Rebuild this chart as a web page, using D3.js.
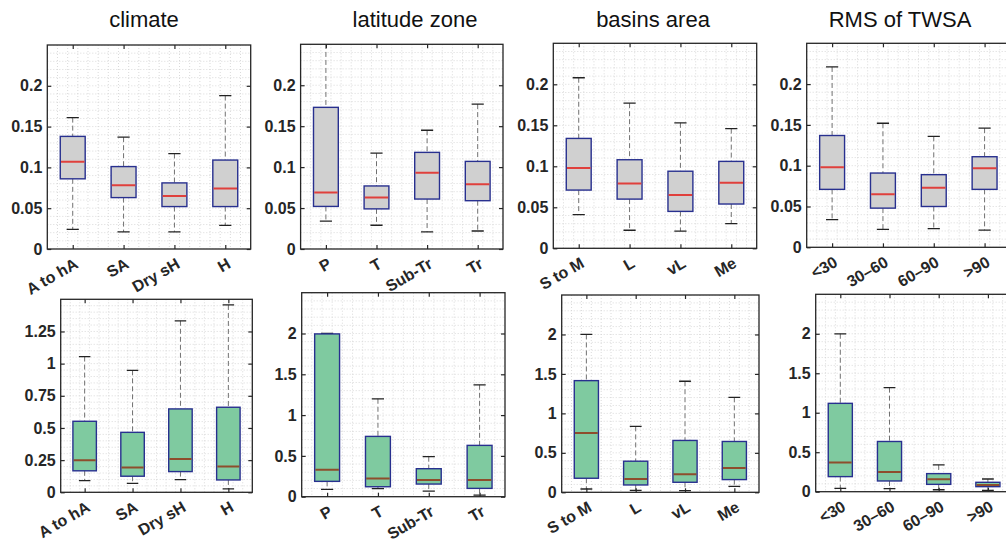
<!DOCTYPE html>
<html>
<head>
<meta charset="utf-8">
<script src="https://cdn.jsdelivr.net/npm/d3@7"></script>
<style>
  body { margin: 0; background: #fff; }
  svg { display: block; font-family: "Liberation Sans", Arial, sans-serif; }
</style>
</head>
<body>
<svg id="chart" width="1006" height="543"></svg>
<script>
// ---- data ----
var titles = ["climate", "latitude zone", "basins area", "RMS of TWSA"];

var climateCats = ["A to hA", "SA", "Dry sH", "H"];
var latitudeCats = ["P", "T", "Sub-Tr", "Tr"];
var areaCats = ["S to M", "L", "vL", "Me"];
var rmsCats = ["<30", "30\u201360", "60\u201390", ">90"];

// each box: [lower whisker, Q1, median, Q3, upper whisker]
var climateTop = [
    [0.024, 0.086, 0.107, 0.138, 0.161],
    [0.021, 0.063, 0.078, 0.101, 0.137],
    [0.021, 0.052, 0.065, 0.081, 0.117],
    [0.029, 0.052, 0.074, 0.109, 0.188]
];
var latitudeTop = [
    [0.034, 0.052, 0.069, 0.173, 0.27],
    [0.029, 0.049, 0.063, 0.077, 0.117],
    [0.021, 0.061, 0.093, 0.118, 0.145],
    [0.022, 0.059, 0.079, 0.107, 0.177]
];
var areaTop = [
    [0.041, 0.071, 0.098, 0.134, 0.208],
    [0.022, 0.060, 0.079, 0.108, 0.177],
    [0.021, 0.045, 0.065, 0.094, 0.153],
    [0.030, 0.054, 0.080, 0.106, 0.146]
];
var rmsTop = [
    [0.034, 0.071, 0.098, 0.137, 0.221],
    [0.022, 0.048, 0.065, 0.091, 0.152],
    [0.023, 0.050, 0.073, 0.089, 0.136],
    [0.021, 0.071, 0.097, 0.111, 0.146]
];

var climateBottom = [
    [0.091, 0.167, 0.250, 0.552, 1.055],
    [0.070, 0.125, 0.193, 0.466, 0.948],
    [0.099, 0.161, 0.258, 0.648, 1.333],
    [0.026, 0.096, 0.200, 0.661, 1.456]
];
var latitudeBottom = [
    [0.090, 0.188, 0.331, 1.995, 2.0],
    [0.098, 0.122, 0.224, 0.739, 1.200],
    [0.069, 0.155, 0.204, 0.343, 0.490],
    [0.020, 0.102, 0.204, 0.629, 1.371]
];
var areaBottom = [
    [0.042, 0.178, 0.750, 1.415, 2.0],
    [0.025, 0.093, 0.169, 0.394, 0.835],
    [0.021, 0.127, 0.229, 0.657, 1.407],
    [0.076, 0.161, 0.309, 0.644, 1.203]
];
var rmsBottom = [
    [0.042, 0.191, 0.369, 1.119, 2.0],
    [0.038, 0.136, 0.250, 0.636, 1.318],
    [0.025, 0.093, 0.157, 0.229, 0.339],
    [0.017, 0.064, 0.085, 0.119, 0.161]
];

var topTicks = [0, 0.05, 0.1, 0.15, 0.2];
var topTickLabels = ["0", "0.05", "0.1", "0.15", "0.2"];
var climateTicks = [0, 0.25, 0.5, 0.75, 1, 1.25];
var climateTickLabels = ["0", "0.25", "0.5", "0.75", "1", "1.25"];
var bottomTicks = [0, 0.5, 1, 1.5, 2];
var bottomTickLabels = ["0", "0.5", "1", "1.5", "2"];

// ---- layout ----
var titleX = [144, 415, 653, 900];
var panels = [
    {cats: climateCats,  stats: climateTop,     l: 47.3,  r: 250.7,  t: 45,    b: 249,   yMax: 0.25, ticks: topTicks, labels: topTickLabels, minor: 0.01, bottom: false},
    {cats: latitudeCats, stats: latitudeTop,    l: 300.6, r: 503,    t: 44.3,  b: 249,   yMax: 0.25, ticks: topTicks, labels: topTickLabels, minor: 0.01, bottom: false},
    {cats: areaCats,     stats: areaTop,        l: 553.3, r: 756.7,  t: 43.3,  b: 248.3, yMax: 0.25, ticks: topTicks, labels: topTickLabels, minor: 0.01, bottom: false},
    {cats: rmsCats,      stats: rmsTop,         l: 806.7, r: 1010,   t: 43.3,  b: 247.3, yMax: 0.25, ticks: topTicks, labels: topTickLabels, minor: 0.01, bottom: false},
    {cats: climateCats,  stats: climateBottom,  l: 60.7,  r: 252.3,  t: 299.3, b: 492.3, yMax: 1.5,  ticks: climateTicks, labels: climateTickLabels, minor: 0.05, bottom: true},
    {cats: latitudeCats, stats: latitudeBottom, l: 301.7, r: 505,    t: 292.7, b: 496.7, yMax: 2.5,  ticks: bottomTicks, labels: bottomTickLabels, minor: 0.1, bottom: true},
    {cats: areaCats,     stats: areaBottom,     l: 561.7, r: 759,    t: 295,   b: 492.3, yMax: 2.5,  ticks: bottomTicks, labels: bottomTickLabels, minor: 0.1, bottom: true},
    {cats: rmsCats,      stats: rmsBottom,      l: 815.7, r: 1012.5, t: 294.3, b: 491.7, yMax: 2.5,  ticks: bottomTicks, labels: bottomTickLabels, minor: 0.1, bottom: true}
];

var axisColor = "#262626";
var svg = d3.select("#chart");

// titles
svg.selectAll("text.title")
    .data(titles)
    .enter()
    .append("text")
    .attr("class", "title")
    .attr("x", function(d, i) { return titleX[i]; })
    .attr("y", 27)
    .attr("text-anchor", "middle")
    .attr("font-size", "22px")
    .attr("fill", "#111")
    .text(function(d) { return d; });

panels.forEach(function(p, pi) {
    var g = svg.append("g");
    var x = d3.scalePoint().domain(p.cats).range([p.l, p.r]).padding(0.5);
    var y = d3.scaleLinear().domain([0, p.yMax]).range([p.b, p.t]);
    var step = x.step();

    // clip
    var clipId = "clip" + pi;
    g.append("clipPath").attr("id", clipId)
        .append("rect")
        .attr("x", p.l).attr("y", p.t)
        .attr("width", p.r - p.l).attr("height", p.b - p.t);

    // grid
    var grid = g.append("g").attr("clip-path", "url(#" + clipId + ")");
    var minorY = d3.range(0, p.yMax + 1e-9, p.minor);
    grid.selectAll("line.hy")
        .data(minorY)
        .enter()
        .append("line")
        .attr("x1", p.l).attr("x2", p.r)
        .attr("y1", function(d) { return y(d); })
        .attr("y2", function(d) { return y(d); })
        .attr("stroke", "#d0d0d0")
        .attr("stroke-width", 0.8)
        .attr("stroke-dasharray", "1,2");
    var minorX = d3.range(0, 21).map(function(k) { return p.l + k * step / 5; });
    grid.selectAll("line.vx")
        .data(minorX)
        .enter()
        .append("line")
        .attr("y1", p.t).attr("y2", p.b)
        .attr("x1", function(d) { return d; })
        .attr("x2", function(d) { return d; })
        .attr("stroke", "#d0d0d0")
        .attr("stroke-width", 0.8)
        .attr("stroke-dasharray", "1,2");

    // boxes
    var fill = p.bottom ? "#7fcaa0" : "#d0d0d0";
    var medColor = p.bottom ? "#8e4d2c" : "#e0403c";
    var boxW = step * 0.49;
    var capW = step * 0.24;
    var marks = g.append("g").attr("clip-path", "url(#" + clipId + ")");
    var boxes = marks.selectAll("g.box")
        .data(p.stats)
        .enter()
        .append("g")
        .attr("transform", function(d, i) { return "translate(" + x(p.cats[i]) + ",0)"; });

    boxes.append("line")
        .attr("x1", 0).attr("x2", 0)
        .attr("y1", function(d) { return y(d[4]); })
        .attr("y2", function(d) { return y(d[3]); })
        .attr("stroke", "#707070")
        .attr("stroke-width", 1)
        .attr("stroke-dasharray", "5,3");
    boxes.append("line")
        .attr("x1", 0).attr("x2", 0)
        .attr("y1", function(d) { return y(d[1]); })
        .attr("y2", function(d) { return y(d[0]); })
        .attr("stroke", "#707070")
        .attr("stroke-width", 1)
        .attr("stroke-dasharray", "5,3");
    [0, 4].forEach(function(k) {
        boxes.append("line")
            .attr("x1", -capW / 2).attr("x2", capW / 2)
            .attr("y1", function(d) { return y(d[k]); })
            .attr("y2", function(d) { return y(d[k]); })
            .attr("stroke", "#222")
            .attr("stroke-width", 1.3);
    });
    boxes.append("rect")
        .attr("x", -boxW / 2)
        .attr("width", boxW)
        .attr("y", function(d) { return y(d[3]); })
        .attr("height", function(d) { return y(d[1]) - y(d[3]); })
        .attr("fill", fill)
        .attr("stroke", "#28308f")
        .attr("stroke-width", 1.4);
    boxes.append("line")
        .attr("x1", -boxW / 2 + 0.7).attr("x2", boxW / 2 - 0.7)
        .attr("y1", function(d) { return y(d[2]); })
        .attr("y2", function(d) { return y(d[2]); })
        .attr("stroke", medColor)
        .attr("stroke-width", 2);

    // axes
    var yAxis = d3.axisLeft(y)
        .tickValues(p.ticks)
        .tickFormat(function(d, i) { return p.labels[i]; })
        .tickSize(-4)
        .tickPadding(5);
    var ya = g.append("g")
        .attr("transform", "translate(" + p.l + ",0)")
        .call(yAxis);
    ya.select(".domain").remove();
    ya.selectAll("line").attr("stroke", axisColor).attr("stroke-width", 1.2);
    ya.selectAll("text")
        .attr("font-size", "16px")
        .attr("font-weight", "bold")
        .attr("font-family", "'Liberation Sans', Arial, sans-serif")
        .attr("fill", axisColor);

    var yr = g.append("g")
        .attr("transform", "translate(" + p.r + ",0)")
        .call(d3.axisRight(y).tickValues(p.ticks).tickFormat("").tickSize(-4));
    yr.select(".domain").remove();
    yr.selectAll("line").attr("stroke", axisColor).attr("stroke-width", 1.2);

    var xt = g.append("g")
        .attr("transform", "translate(0," + p.t + ")")
        .call(d3.axisTop(x).tickFormat("").tickSize(-4));
    xt.select(".domain").remove();
    xt.selectAll("line").attr("stroke", axisColor).attr("stroke-width", 1.2);

    var xb = g.append("g")
        .attr("transform", "translate(0," + p.b + ")")
        .call(d3.axisBottom(x).tickSize(-4));
    xb.select(".domain").remove();
    xb.selectAll("line").attr("stroke", axisColor).attr("stroke-width", 1.2);
    xb.selectAll("text")
        .attr("y", 0)
        .attr("dy", null)
        .attr("text-anchor", "end")
        .attr("transform", "translate(6,18) rotate(-30)")
        .attr("font-size", "16px")
        .attr("font-weight", "bold")
        .attr("font-family", "'Liberation Sans', Arial, sans-serif")
        .attr("fill", axisColor);

    // box frame
    g.append("rect")
        .attr("x", p.l).attr("y", p.t)
        .attr("width", p.r - p.l).attr("height", p.b - p.t)
        .attr("fill", "none")
        .attr("stroke", axisColor)
        .attr("stroke-width", 1.3);
});
</script>
</body>
</html>
